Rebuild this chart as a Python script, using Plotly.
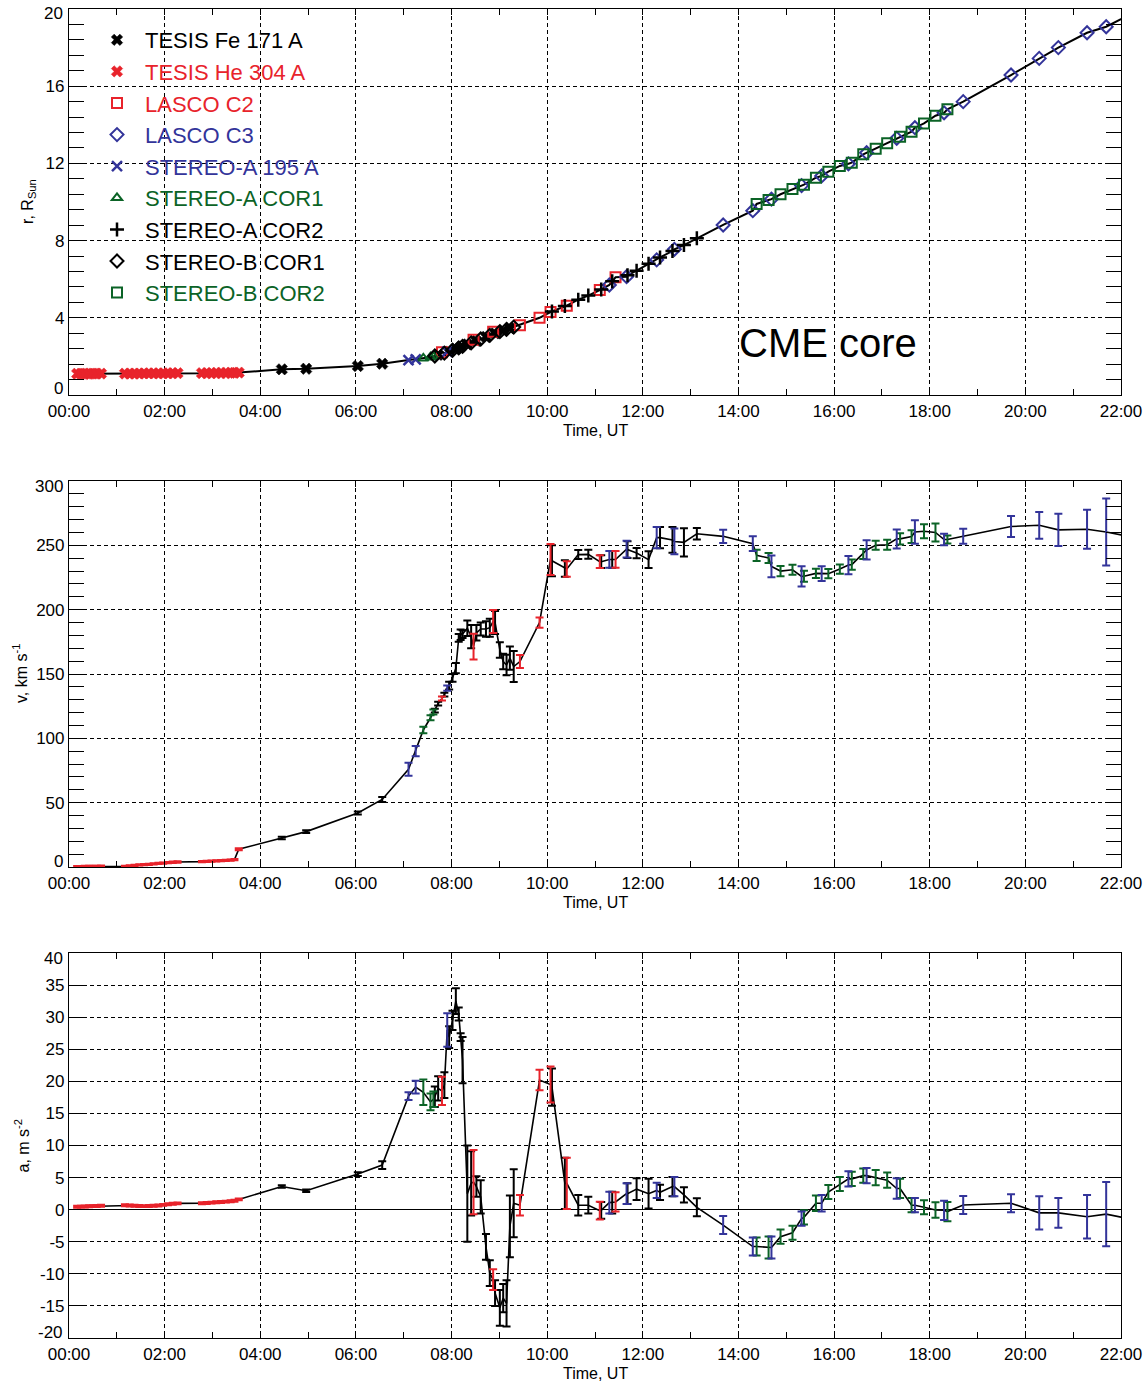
import plotly.graph_objects as go

RED = "#e8232b"
BLUE = "#33349a"
GREEN = "#0b6326"
BLACK = "#000000"
FONT = "Liberation Sans, Arial, Helvetica, sans-serif"

# Time in hours UT, height r (R_sun), speed v (km/s) with error, acceleration a (m/s^2) with error

# TESIS He 304 A
he304_t = [0.17, 0.25, 0.33, 0.42, 0.50, 0.58, 0.67,
           1.17, 1.27, 1.37, 1.47, 1.57, 1.67, 1.77, 1.87, 1.97, 2.07, 2.17, 2.27,
           2.78, 2.88, 2.98, 3.08, 3.18, 3.28, 3.38, 3.46, 3.55]
he304_r = [1.10, 1.10, 1.10, 1.10, 1.11, 1.11, 1.11,
           1.11, 1.11, 1.11, 1.11, 1.12, 1.12, 1.12, 1.12, 1.12, 1.12, 1.13, 1.13,
           1.13, 1.13, 1.13, 1.14, 1.14, 1.14, 1.15, 1.15, 1.16]
he304_v = [0.3, 0.3, 0.4, 0.4, 0.5, 0.5, 0.6,
           0.5, 0.9, 1.2, 1.6, 1.9, 2.1, 2.5, 2.8, 3.0, 3.4, 3.7, 3.9,
           4.2, 4.4, 4.6, 4.8, 5.0, 5.2, 5.4, 5.7, 13.8]
he304_ve = [0.5, 0.5, 0.5, 0.5, 0.5, 0.5, 0.5,
            0.5, 0.5, 0.5, 0.5, 0.5, 0.5, 0.5, 0.5, 0.5, 0.5, 0.5, 0.5,
            0.5, 0.5, 0.5, 0.5, 0.5, 0.5, 0.5, 0.5, 0.8]
he304_a = [0.45, 0.47, 0.50, 0.52, 0.55, 0.57, 0.60,
           0.68, 0.66, 0.62, 0.58, 0.55, 0.56, 0.60, 0.65, 0.75, 0.85, 0.92, 0.98,
           1.00, 1.05, 1.10, 1.15, 1.20, 1.25, 1.30, 1.40, 1.60]
he304_ae = [0.15, 0.15, 0.15, 0.15, 0.15, 0.15, 0.15,
            0.15, 0.15, 0.15, 0.15, 0.15, 0.15, 0.15, 0.15, 0.15, 0.15, 0.15, 0.15,
            0.15, 0.15, 0.15, 0.15, 0.15, 0.15, 0.15, 0.15, 0.15]

# TESIS Fe 171 A
fe171_t = [4.45, 4.96, 6.04, 6.55, 7.72, 7.95, 8.09, 8.19, 8.33, 8.52, 8.72, 8.91, 9.08, 9.22]
fe171_r = [1.33, 1.36, 1.50, 1.62, 2.08, 2.25, 2.38, 2.48, 2.62, 2.80, 3.01, 3.19, 3.34, 3.46]
fe171_v = [22.6, 27.5, 42.0, 52.5, 127.0, 141.0, 154.5, 180.5, 185.6, 182.0, 185.0, 190.0, 159.7, 162.3]
fe171_ve = [1.0, 1.0, 1.2, 2.0, 1.5, 3.0, 4.0, 4.0, 6.0, 6.0, 6.0, 9.0, 6.0, 9.0]
fe171_a = [3.6, 2.96, 5.55, 6.95, 18.9, 26.9, 32.5, 26.9, 2.5, 3.6, -5.8, -13.0, -13.8, -2.6]
fe171_ae = [0.2, 0.2, 0.3, 0.6, 1.9, 1.7, 2.0, 0.6, 7.5, 1.6, 2.0, 2.0, 2.2, 4.8]

# LASCO C2
c2_t = [7.80, 8.46, 8.87, 9.43, 9.84, 10.07, 10.41, 11.10, 11.43]
c2_r = [2.22, 2.86, 3.28, 3.62, 4.00, 4.30, 4.63, 5.44, 6.10]
c2_v = [131.0, 171.3, 190.8, 159.7, 190.0, 239.0, 231.6, 237.3, 239.0]
c2_ve = [1.5, 10.0, 9.0, 5.0, 4.0, 12.0, 6.0, 5.0, 6.5]
c2_a = [18.5, 4.3, -10.9, 0.7, 20.2, 19.5, 4.1, -0.15, 1.2]
c2_ae = [2.2, 5.0, 1.6, 1.6, 1.6, 2.8, 4.0, 1.4, 1.5]

# LASCO C3
c3_t = [11.30, 11.66, 12.29, 12.66, 13.68, 14.30, 14.69, 15.32, 15.74, 16.30, 16.68,
        17.31, 17.69, 18.30, 18.70, 19.70, 20.29, 20.69, 21.29, 21.69, 22.30]
c3_r = [5.70, 6.13, 7.00, 7.55, 8.81, 9.55, 10.15, 10.85, 11.35, 11.98, 12.55,
        13.30, 13.85, 14.62, 15.20, 16.58, 17.44, 18.00, 18.77, 19.08, 19.85]
c3_v = [239.0, 247.0, 256.0, 253.0, 257.0, 251.3, 233.6, 225.9, 228.0, 234.7, 246.4,
        255.0, 260.4, 254.5, 257.0, 264.6, 265.6, 262.0, 262.5, 260.4, 256.0]
c3_ve = [6.5, 6.5, 8.3, 10.0, 5.2, 5.8, 8.5, 7.8, 5.8, 7.1, 7.5,
         7.4, 9.1, 4.5, 5.8, 8.2, 10.4, 12.6, 15.2, 26.0, 28.0]
c3_a = [1.1, 2.5, 3.0, 3.6, -2.4, -5.75, -5.9, -1.4, 1.0, 4.8, 5.3,
        3.3, 0.7, -0.1, 0.73, 1.0, -0.5, -0.5, -1.1, -0.7, -1.6]
c3_ae = [1.7, 1.6, 1.2, 1.5, 1.4, 1.4, 1.7, 1.1, 1.3, 1.2, 1.2,
         1.6, 1.1, 1.5, 1.4, 1.4, 2.6, 2.3, 3.4, 5.0, 5.5]

# STEREO-A 195 A
a195_t = [7.10, 7.25, 7.91]
a195_r = [1.81, 1.85, 2.25]
a195_v = [76.0, 90.0, 139.0]
a195_ve = [5.0, 4.0, 2.0]
a195_a = [17.7, 19.1, 28.0]
a195_ae = [0.6, 1.0, 2.6]

# STEREO-A COR1
acor1_t = [7.41, 7.56, 7.62]
acor1_r = [1.90, 1.96, 1.99]
acor1_v = [106.5, 116.0, 120.5]
acor1_ve = [2.5, 2.0, 2.0]
acor1_a = [18.3, 16.8, 17.2]
acor1_ae = [2.0, 1.3, 1.2]

# STEREO-A COR2
acor2_t = [10.10, 10.37, 10.65, 10.86, 11.13, 11.36, 11.68, 11.87, 12.12, 12.36, 12.62, 12.86, 13.13]
acor2_r = [4.33, 4.61, 4.94, 5.15, 5.47, 5.90, 6.20, 6.44, 6.80, 7.13, 7.46, 7.77, 8.12]
acor2_v = [238.0, 232.0, 242.8, 243.0, 237.3, 239.0, 246.7, 244.0, 238.9, 256.0, 254.2, 252.3, 259.0]
acor2_ve = [12.0, 6.5, 3.5, 3.5, 5.0, 6.5, 6.5, 4.0, 6.5, 8.3, 10.0, 11.0, 4.5]
acor2_a = [19.1, 4.1, 0.7, 0.7, -0.1, 1.1, 2.5, 3.2, 2.5, 2.7, 3.6, 2.3, 0.37]
acor2_ae = [2.9, 4.0, 1.6, 1.3, 1.3, 1.7, 1.6, 1.7, 2.3, 1.2, 1.5, 1.2, 1.4]

# STEREO-B COR1
bcor1_t = [7.65, 7.85, 8.02, 8.15, 8.23, 8.41, 8.61, 8.80, 9.01, 9.15, 9.30]
bcor1_r = [2.02, 2.17, 2.32, 2.44, 2.52, 2.70, 2.90, 3.09, 3.28, 3.40, 3.52]
bcor1_v = [121.5, 134.0, 147.0, 178.0, 181.0, 179.0, 185.0, 186.0, 168.7, 157.0, 155.8]
bcor1_ve = [1.5, 1.5, 3.0, 3.0, 3.0, 9.0, 5.0, 7.0, 6.0, 8.0, 12.0]
bcor1_a = [17.6, 19.4, 29.5, 30.5, 23.3, 4.1, 2.0, -9.9, -15.3, -14.6, 1.0]
bcor1_ae = [1.6, 2.0, 1.5, 1.0, 3.6, 5.0, 2.6, 2.0, 2.8, 3.6, 5.3]

# STEREO-B COR2
bcor2_t = [14.38, 14.63, 14.88, 15.13, 15.37, 15.62, 15.88, 16.12, 16.37, 16.61, 16.87,
           17.11, 17.38, 17.62, 17.88, 18.12, 18.37]
bcor2_r = [9.90, 10.10, 10.40, 10.67, 10.90, 11.26, 11.57, 11.87, 12.04, 12.47, 12.76,
           13.04, 13.38, 13.64, 14.07, 14.47, 14.80]
bcor2_v = [242.2, 240.2, 230.0, 231.0, 226.0, 228.2, 228.0, 231.6, 235.0, 243.3, 250.0,
           250.5, 255.0, 256.8, 261.0, 260.0, 254.5]
bcor2_ve = [4.3, 3.9, 4.0, 3.9, 4.3, 3.6, 3.6, 3.6, 4.0, 3.9, 3.5,
            3.9, 4.3, 4.9, 5.4, 7.0, 3.1]
bcor2_a = [-5.75, -5.9, -4.2, -3.6, -1.2, 1.0, 2.75, 4.0, 4.8, 5.3, 5.0,
           4.6, 3.3, 0.7, 0.37, -0.05, -0.3]
bcor2_ae = [1.4, 1.7, 1.1, 1.1, 1.1, 1.2, 1.1, 1.1, 1.1, 1.1, 1.2,
            1.2, 1.5, 1.1, 1.1, 1.2, 1.5]

hour_ticks = list(range(0, 23, 2))
hour_labels = [f"{h:02d}:00" for h in hour_ticks]
r_ticks = [0, 4, 8, 12, 16, 20]
v_ticks = [0, 50, 100, 150, 200, 250, 300]
a_ticks = [-20, -15, -10, -5, 0, 5, 10, 15, 20, 25, 30, 35, 40]

instruments = [
    dict(label="TESIS Fe 171 A", color=BLACK, symbol="x", size=10, lw=0.6,
         t=fe171_t, r=fe171_r, v=fe171_v, ve=fe171_ve, a=fe171_a, ae=fe171_ae),
    dict(label="TESIS He 304 A", color=RED, symbol="x", size=10, lw=0.6,
         t=he304_t, r=he304_r, v=he304_v, ve=he304_ve, a=he304_a, ae=he304_ae),
    dict(label="LASCO C2", color=RED, symbol="square-open", size=10, lw=2,
         t=c2_t, r=c2_r, v=c2_v, ve=c2_ve, a=c2_a, ae=c2_ae),
    dict(label="LASCO C3", color=BLUE, symbol="diamond-open", size=10, lw=2,
         t=c3_t, r=c3_r, v=c3_v, ve=c3_ve, a=c3_a, ae=c3_ae),
    dict(label="STEREO-A 195 A", color=BLUE, symbol="x-thin-open", size=10, lw=2.5,
         t=a195_t, r=a195_r, v=a195_v, ve=a195_ve, a=a195_a, ae=a195_ae),
    dict(label="STEREO-A COR1", color=GREEN, symbol="triangle-up-open", size=9, lw=2,
         t=acor1_t, r=acor1_r, v=acor1_v, ve=acor1_ve, a=acor1_a, ae=acor1_ae),
    dict(label="STEREO-A COR2", color=BLACK, symbol="cross-thin-open", size=10, lw=2.5,
         t=acor2_t, r=acor2_r, v=acor2_v, ve=acor2_ve, a=acor2_a, ae=acor2_ae),
    dict(label="STEREO-B COR1", color=BLACK, symbol="diamond-open", size=10, lw=2,
         t=bcor1_t, r=bcor1_r, v=bcor1_v, ve=bcor1_ve, a=bcor1_a, ae=bcor1_ae),
    dict(label="STEREO-B COR2", color=GREEN, symbol="square-open", size=10, lw=2,
         t=bcor2_t, r=bcor2_r, v=bcor2_v, ve=bcor2_ve, a=bcor2_a, ae=bcor2_ae),
]


def merged(key):
    pts = sorted((t, val) for inst in instruments for t, val in zip(inst["t"], inst[key]))
    return [p[0] for p in pts], [p[1] for p in pts]


fig = go.Figure()

# connecting curves through all observations, ordered in time
for key, xa, ya in (("r", "x", "y"), ("v", "x2", "y2"), ("a", "x3", "y3")):
    tx, ty = merged(key)
    fig.add_trace(go.Scatter(x=tx, y=ty, mode="lines", line=dict(color=BLACK, width=2 if key == "r" else 1.6),
                             xaxis=xa, yaxis=ya, showlegend=False, hoverinfo="skip"))

# height-time markers, one trace per instrument (also the legend entries)
for rank, inst in enumerate(instruments):
    fig.add_trace(go.Scatter(
        x=inst["t"], y=inst["r"], mode="markers", xaxis="x", yaxis="y",
        name=f'<span style="color:{inst["color"]}">{inst["label"]}</span>',
        legendrank=rank + 1,
        marker=dict(symbol=inst["symbol"], size=inst["size"], color=inst["color"],
                    line=dict(color=inst["color"], width=inst["lw"])),
    ))

# speed and acceleration error bars: black instruments first, coloured ones on top
draw_order = sorted(instruments, key=lambda d: {BLACK: 0, GREEN: 1, BLUE: 2, RED: 3}[d["color"]])
for inst in draw_order:
    for key, err, xa, ya in (("v", "ve", "x2", "y2"), ("a", "ae", "x3", "y3")):
        fig.add_trace(go.Scatter(
            x=inst["t"], y=inst[key], mode="markers", xaxis=xa, yaxis=ya,
            marker=dict(size=4, color=inst["color"], opacity=0),
            error_y=dict(type="data", array=inst[err], visible=True, color=inst["color"],
                         thickness=2, width=4),
            showlegend=False, hoverinfo="skip",
        ))

W, H = 1146, 1382
x_dom = [69 / W, 1121 / W]


def ydom(top_px, bottom_px):
    return [(H - bottom_px) / H, (H - top_px) / H]


grid_dash = "4px,3px"
tick_font = dict(family=FONT, size=17, color=BLACK)


def xaxis_cfg(anchor):
    return dict(domain=x_dom, anchor=anchor, range=[0, 22], tickvals=hour_ticks, ticktext=hour_labels,
                ticks="inside", ticklen=6, tickcolor=BLACK, tickwidth=1, automargin=False,
                showline=True, linecolor=BLACK, linewidth=1.2, mirror="ticks",
                showgrid=True, gridcolor=BLACK, gridwidth=1, griddash=grid_dash,
                zeroline=False, tickfont=tick_font,
                minor=dict(dtick=1, tick0=0, ticks="inside", ticklen=6, tickcolor=BLACK, showgrid=False))


def yaxis_cfg(anchor, dom, rng, ticks, minor_dtick, zeroline=False):
    # end labels are set as separate annotations, nudged inside the frame
    cfg = dict(domain=dom, anchor=anchor, range=rng, tickvals=ticks,
               ticktext=[str(v) if v not in rng else "" for v in ticks],
               ticks="inside", ticklen=15, tickcolor=BLACK, tickwidth=1, automargin=False,
               showline=True, linecolor=BLACK, linewidth=1.2, mirror="ticks",
               showgrid=True, gridcolor=BLACK, gridwidth=1, griddash=grid_dash,
               zeroline=zeroline, zerolinecolor=BLACK, zerolinewidth=1.2,
               tickfont=tick_font)
    if minor_dtick:
        cfg["minor"] = dict(dtick=minor_dtick, tick0=0, ticks="inside", ticklen=15,
                            tickcolor=BLACK, showgrid=False)
    return cfg


top_dom = ydom(9, 395)
mid_dom = ydom(481, 867)
bot_dom = ydom(953, 1338)

fig.update_layout(
    width=W, height=H,
    margin=dict(l=0, r=0, t=0, b=0),
    paper_bgcolor="white", plot_bgcolor="white",
    font=dict(family=FONT, color=BLACK),
    xaxis=xaxis_cfg("y"), xaxis2=xaxis_cfg("y2"), xaxis3=xaxis_cfg("y3"),
    yaxis=yaxis_cfg("x", top_dom, [0, 20], r_ticks, 0.8),
    yaxis2=yaxis_cfg("x2", mid_dom, [0, 300], v_ticks, 10),
    yaxis3=yaxis_cfg("x3", bot_dom, [-20, 40], a_ticks, None, zeroline=True),
    legend=dict(x=89 / W, y=1 - 19 / H, xanchor="left", yanchor="top",
                font=dict(family=FONT, size=22, color=BLACK),
                bgcolor="rgba(0,0,0,0)", borderwidth=0, itemwidth=46,
                tracegroupgap=0),
    showlegend=True,
)

annotations = []
for top_px, bottom_px in ((9, 395), (481, 867), (953, 1338)):
    annotations.append(dict(text="Time, UT", xref="paper", yref="paper",
                            x=(x_dom[0] + x_dom[1]) / 2, y=(H - bottom_px - 35) / H,
                            xanchor="center", yanchor="middle", showarrow=False,
                            font=dict(family=FONT, size=16, color=BLACK)))
for title, xpx, dom in (("r, R<sub>Sun</sub>", 28, top_dom),
                        ("v, km s<sup>-1</sup>", 20, mid_dom),
                        ("a, m s<sup>-2</sup>", 22, bot_dom)):
    annotations.append(dict(text=title, xref="paper", yref="paper", x=xpx / W, y=(dom[0] + dom[1]) / 2,
                            textangle=-90, xanchor="center", yanchor="middle", showarrow=False,
                            font=dict(family=FONT, size=16, color=BLACK)))
# end-of-axis value labels, nudged toward the inside of each frame
for yref, rng in (("y", [0, 20]), ("y2", [0, 300]), ("y3", [-20, 40])):
    for val, shift in ((rng[0], 6), (rng[1], -5)):
        annotations.append(dict(text=str(val), xref="paper", yref=yref, x=65 / W, y=val,
                                xanchor="right", yanchor="middle", yshift=shift, showarrow=False,
                                font=tick_font))
annotations.append(dict(text="CME core", xref="x", yref="y", x=15.87, y=2.7,
                        xanchor="center", yanchor="middle", showarrow=False,
                        font=dict(family=FONT, size=40, color=BLACK)))
fig.update_layout(annotations=annotations)

fig.write_html("out.html")
